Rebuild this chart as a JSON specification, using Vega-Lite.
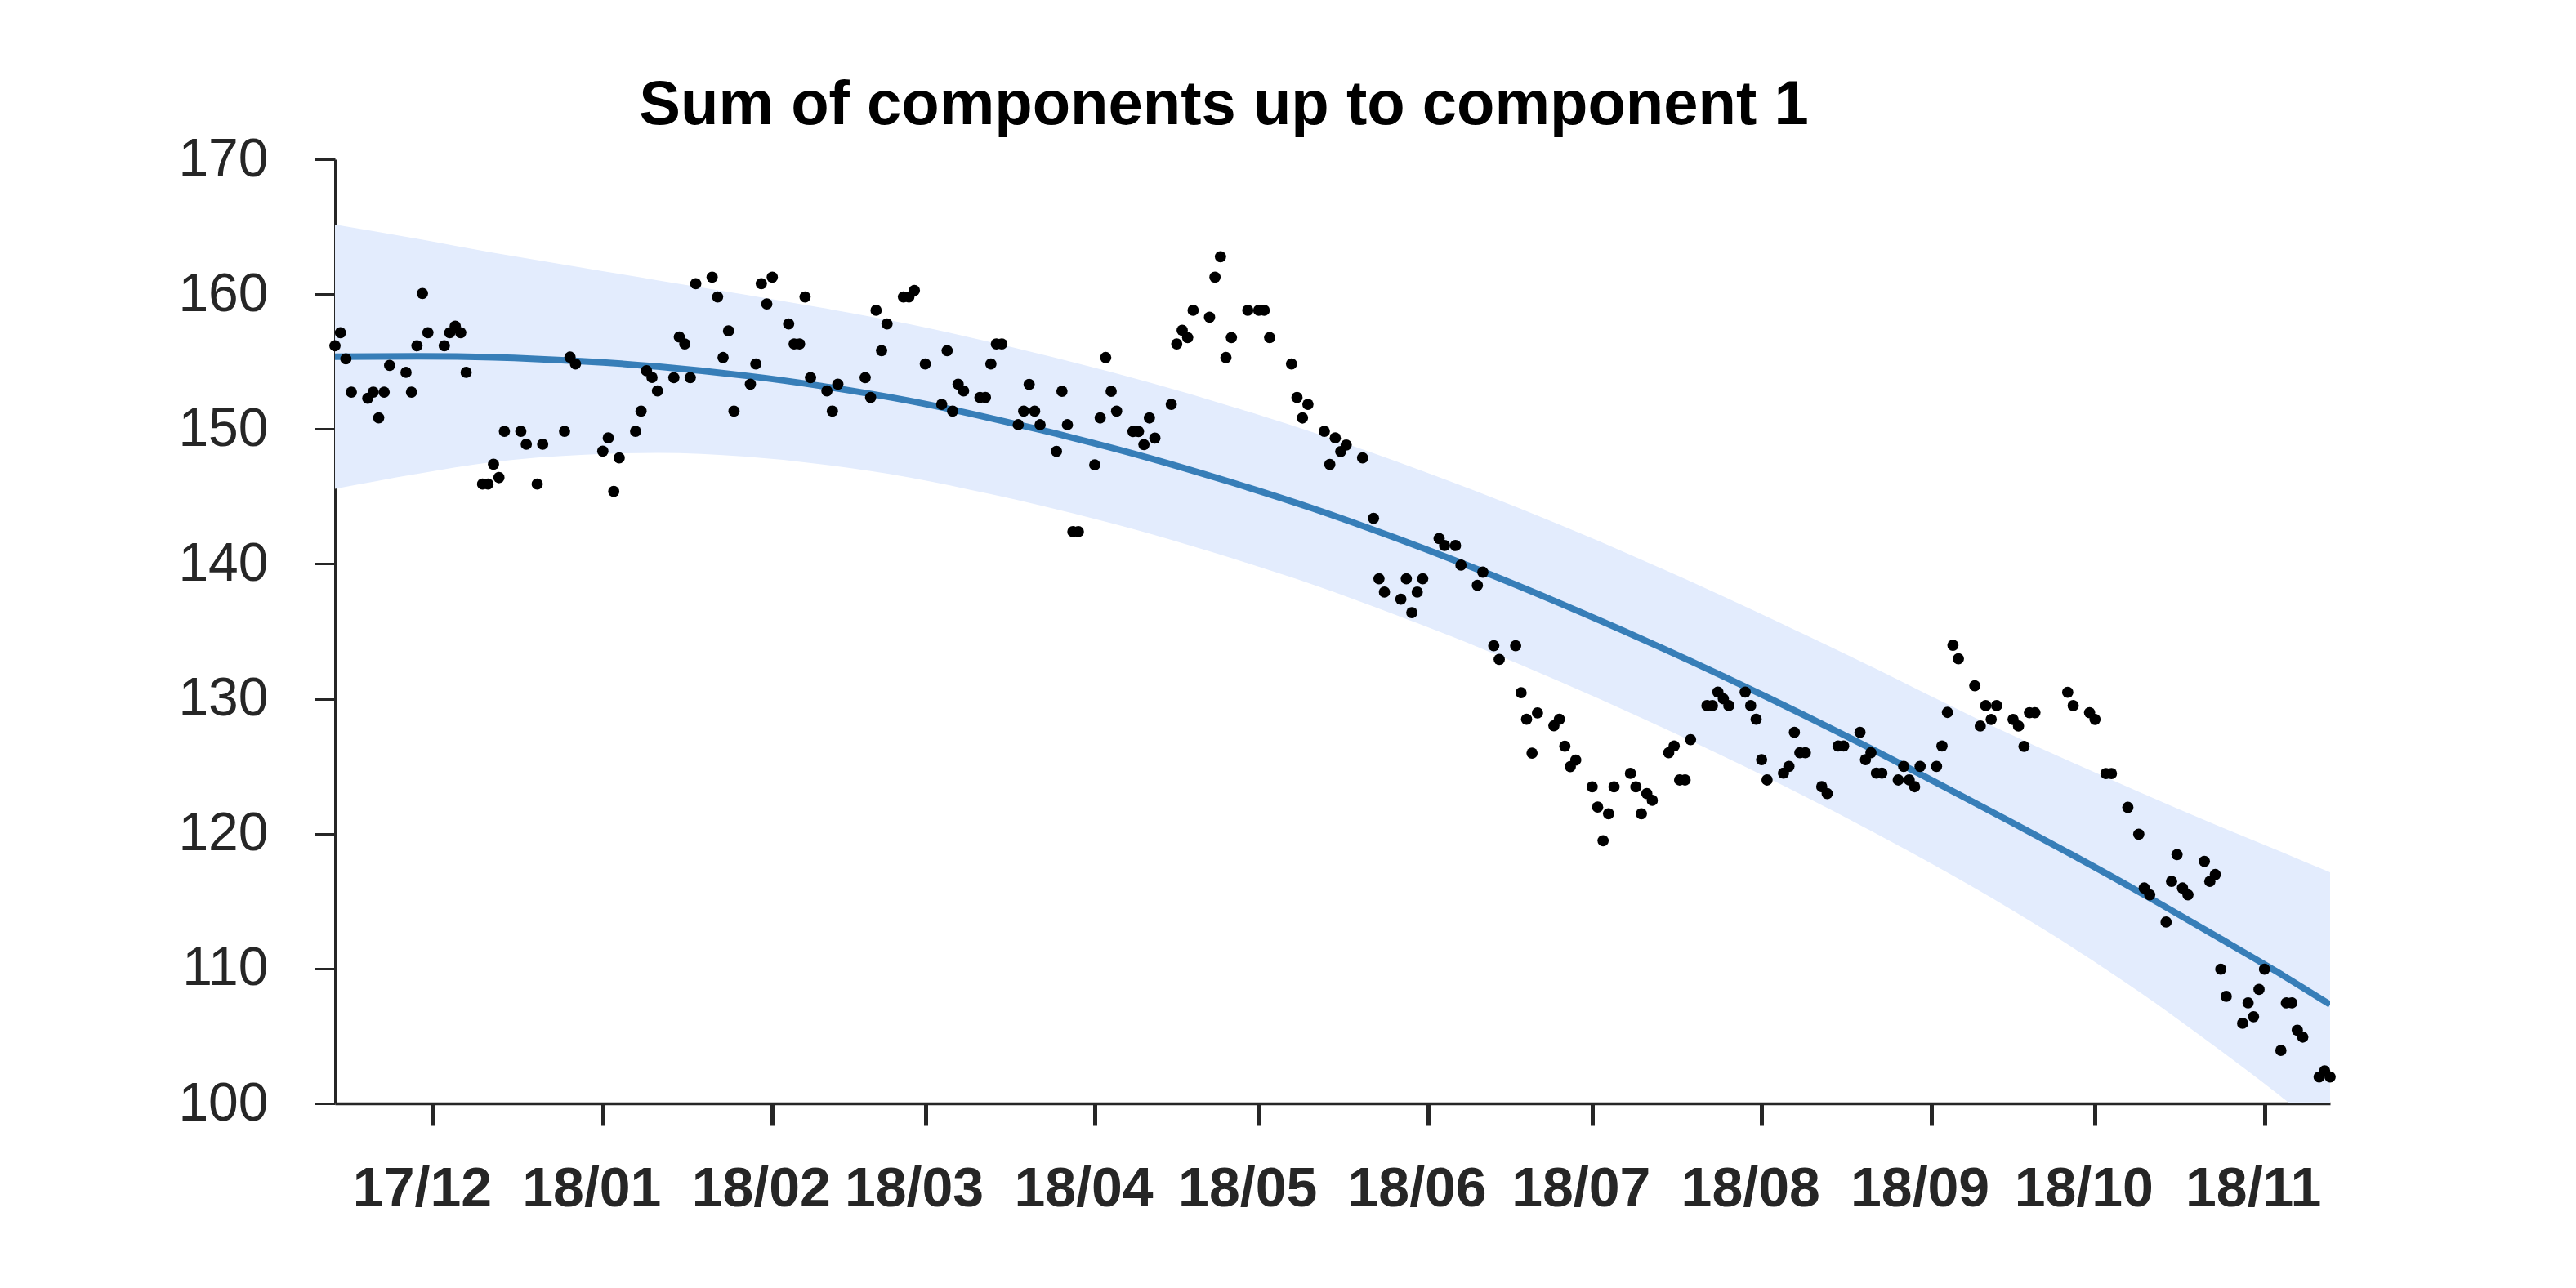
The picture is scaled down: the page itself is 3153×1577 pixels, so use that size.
{
  "$schema": "https://vega.github.io/schema/vega-lite/v6.json",
  "width": 2442,
  "height": 1156,
  "autosize": {"type": "none"},
  "padding": {"left": 410, "top": 195, "right": 301, "bottom": 226},
  "background": "white",
  "config": {"view": {"stroke": null}, "font": "Liberation Sans"},
  "title": {"text": "Sum of components up to component 1", "font": "Liberation Sans", "fontSize": 76, "fontWeight": "bold", "color": "#000000", "anchor": "middle", "dx": -133, "dy": 90, "offset": 24, "baseline": "alphabetic"},
  "datasets": {
    "fit": [
      {"date": "2017-11-13", "mean": 155.36, "lo": 145.56, "hi": 165.16},
      {"date": "2017-11-28", "mean": 155.39, "lo": 146.67, "hi": 164.11},
      {"date": "2017-12-12", "mean": 155.31, "lo": 147.56, "hi": 163.06},
      {"date": "2017-12-28", "mean": 155.03, "lo": 148.08, "hi": 161.98},
      {"date": "2018-01-11", "mean": 154.63, "lo": 148.23, "hi": 161.03},
      {"date": "2018-01-27", "mean": 153.96, "lo": 147.96, "hi": 159.96},
      {"date": "2018-02-10", "mean": 153.19, "lo": 147.39, "hi": 158.99},
      {"date": "2018-02-26", "mean": 152.10, "lo": 146.42, "hi": 157.78},
      {"date": "2018-03-13", "mean": 150.80, "lo": 145.17, "hi": 156.43},
      {"date": "2018-03-28", "mean": 149.35, "lo": 143.75, "hi": 154.95},
      {"date": "2018-04-11", "mean": 147.85, "lo": 142.25, "hi": 153.45},
      {"date": "2018-04-26", "mean": 146.05, "lo": 140.43, "hi": 151.67},
      {"date": "2018-05-11", "mean": 144.10, "lo": 138.45, "hi": 149.75},
      {"date": "2018-05-26", "mean": 141.93, "lo": 136.23, "hi": 147.63},
      {"date": "2018-06-10", "mean": 139.60, "lo": 133.85, "hi": 145.35},
      {"date": "2018-06-25", "mean": 137.10, "lo": 131.29, "hi": 142.91},
      {"date": "2018-07-10", "mean": 134.45, "lo": 128.58, "hi": 140.32},
      {"date": "2018-07-25", "mean": 131.66, "lo": 125.73, "hi": 137.59},
      {"date": "2018-08-09", "mean": 128.74, "lo": 122.74, "hi": 134.74},
      {"date": "2018-08-24", "mean": 125.68, "lo": 119.56, "hi": 131.80},
      {"date": "2018-09-08", "mean": 122.50, "lo": 116.20, "hi": 128.80},
      {"date": "2018-09-24", "mean": 119.05, "lo": 112.30, "hi": 125.80},
      {"date": "2018-10-09", "mean": 115.70, "lo": 108.30, "hi": 123.10},
      {"date": "2018-10-24", "mean": 112.20, "lo": 103.90, "hi": 120.50},
      {"date": "2018-11-03", "mean": 109.83, "lo": 100.83, "hi": 118.83},
      {"date": "2018-11-13", "mean": 107.33, "lo": 97.53, "hi": 117.13}
    ],
    "obs": [
      {"date": "2017-11-13", "value": 156.17},
      {"date": "2017-11-14", "value": 157.14},
      {"date": "2017-11-15", "value": 155.2},
      {"date": "2017-11-16", "value": 152.74},
      {"date": "2017-11-19", "value": 152.28},
      {"date": "2017-11-20", "value": 152.74},
      {"date": "2017-11-21", "value": 150.83},
      {"date": "2017-11-22", "value": 152.74},
      {"date": "2017-11-23", "value": 154.72},
      {"date": "2017-11-26", "value": 154.2},
      {"date": "2017-11-27", "value": 152.74},
      {"date": "2017-11-28", "value": 156.17},
      {"date": "2017-11-29", "value": 160.05},
      {"date": "2017-11-30", "value": 157.14},
      {"date": "2017-12-03", "value": 156.17},
      {"date": "2017-12-04", "value": 157.14},
      {"date": "2017-12-05", "value": 157.63},
      {"date": "2017-12-06", "value": 157.14},
      {"date": "2017-12-07", "value": 154.2},
      {"date": "2017-12-10", "value": 145.92},
      {"date": "2017-12-11", "value": 145.92},
      {"date": "2017-12-12", "value": 147.39},
      {"date": "2017-12-13", "value": 146.4},
      {"date": "2017-12-14", "value": 149.83},
      {"date": "2017-12-17", "value": 149.83},
      {"date": "2017-12-18", "value": 148.87},
      {"date": "2017-12-20", "value": 145.92},
      {"date": "2017-12-21", "value": 148.87},
      {"date": "2017-12-25", "value": 149.83},
      {"date": "2017-12-26", "value": 155.33},
      {"date": "2017-12-27", "value": 154.82},
      {"date": "2018-01-01", "value": 148.36},
      {"date": "2018-01-02", "value": 149.35},
      {"date": "2018-01-03", "value": 145.37},
      {"date": "2018-01-04", "value": 147.86},
      {"date": "2018-01-07", "value": 149.83},
      {"date": "2018-01-08", "value": 151.33},
      {"date": "2018-01-09", "value": 154.32},
      {"date": "2018-01-10", "value": 153.83},
      {"date": "2018-01-11", "value": 152.82},
      {"date": "2018-01-14", "value": 153.81},
      {"date": "2018-01-15", "value": 156.82},
      {"date": "2018-01-16", "value": 156.31},
      {"date": "2018-01-17", "value": 153.81},
      {"date": "2018-01-18", "value": 160.77},
      {"date": "2018-01-21", "value": 161.26},
      {"date": "2018-01-22", "value": 159.79},
      {"date": "2018-01-23", "value": 155.3},
      {"date": "2018-01-24", "value": 157.28},
      {"date": "2018-01-25", "value": 151.33},
      {"date": "2018-01-28", "value": 153.33},
      {"date": "2018-01-29", "value": 154.82},
      {"date": "2018-01-30", "value": 160.77},
      {"date": "2018-01-31", "value": 159.28},
      {"date": "2018-02-01", "value": 161.26},
      {"date": "2018-02-04", "value": 157.79},
      {"date": "2018-02-05", "value": 156.31},
      {"date": "2018-02-06", "value": 156.31},
      {"date": "2018-02-07", "value": 159.79},
      {"date": "2018-02-08", "value": 153.81},
      {"date": "2018-02-11", "value": 152.82},
      {"date": "2018-02-12", "value": 151.33},
      {"date": "2018-02-13", "value": 153.33},
      {"date": "2018-02-18", "value": 153.81},
      {"date": "2018-02-19", "value": 152.34},
      {"date": "2018-02-20", "value": 158.8},
      {"date": "2018-02-21", "value": 155.81},
      {"date": "2018-02-22", "value": 157.79},
      {"date": "2018-02-25", "value": 159.79},
      {"date": "2018-02-26", "value": 159.79},
      {"date": "2018-02-27", "value": 160.27},
      {"date": "2018-03-01", "value": 154.82},
      {"date": "2018-03-04", "value": 151.83},
      {"date": "2018-03-05", "value": 155.81},
      {"date": "2018-03-06", "value": 151.33},
      {"date": "2018-03-07", "value": 153.33},
      {"date": "2018-03-08", "value": 152.82},
      {"date": "2018-03-11", "value": 152.34},
      {"date": "2018-03-12", "value": 152.34},
      {"date": "2018-03-13", "value": 154.82},
      {"date": "2018-03-14", "value": 156.31},
      {"date": "2018-03-15", "value": 156.31},
      {"date": "2018-03-18", "value": 150.32},
      {"date": "2018-03-19", "value": 151.33},
      {"date": "2018-03-20", "value": 153.31},
      {"date": "2018-03-21", "value": 151.33},
      {"date": "2018-03-22", "value": 150.32},
      {"date": "2018-03-25", "value": 148.34},
      {"date": "2018-03-26", "value": 152.8},
      {"date": "2018-03-27", "value": 150.32},
      {"date": "2018-03-28", "value": 142.39},
      {"date": "2018-03-29", "value": 142.39},
      {"date": "2018-04-01", "value": 147.35},
      {"date": "2018-04-02", "value": 150.82},
      {"date": "2018-04-03", "value": 155.3},
      {"date": "2018-04-04", "value": 152.8},
      {"date": "2018-04-05", "value": 151.33},
      {"date": "2018-04-08", "value": 149.82},
      {"date": "2018-04-09", "value": 149.82},
      {"date": "2018-04-10", "value": 148.85},
      {"date": "2018-04-11", "value": 150.82},
      {"date": "2018-04-12", "value": 149.33},
      {"date": "2018-04-15", "value": 151.83},
      {"date": "2018-04-16", "value": 156.31},
      {"date": "2018-04-17", "value": 157.32},
      {"date": "2018-04-18", "value": 156.78},
      {"date": "2018-04-19", "value": 158.8},
      {"date": "2018-04-22", "value": 158.29},
      {"date": "2018-04-23", "value": 161.26},
      {"date": "2018-04-24", "value": 162.77},
      {"date": "2018-04-25", "value": 155.3},
      {"date": "2018-04-26", "value": 156.78},
      {"date": "2018-04-29", "value": 158.8},
      {"date": "2018-05-01", "value": 158.8},
      {"date": "2018-05-02", "value": 158.8},
      {"date": "2018-05-03", "value": 156.78},
      {"date": "2018-05-07", "value": 154.82},
      {"date": "2018-05-08", "value": 152.34},
      {"date": "2018-05-09", "value": 150.82},
      {"date": "2018-05-10", "value": 151.83},
      {"date": "2018-05-13", "value": 149.83},
      {"date": "2018-05-14", "value": 147.37},
      {"date": "2018-05-15", "value": 149.34},
      {"date": "2018-05-16", "value": 148.33},
      {"date": "2018-05-17", "value": 148.82},
      {"date": "2018-05-20", "value": 147.86},
      {"date": "2018-05-22", "value": 143.38},
      {"date": "2018-05-23", "value": 138.9},
      {"date": "2018-05-24", "value": 137.91},
      {"date": "2018-05-27", "value": 137.38},
      {"date": "2018-05-28", "value": 138.9},
      {"date": "2018-05-29", "value": 136.39},
      {"date": "2018-05-30", "value": 137.91},
      {"date": "2018-05-31", "value": 138.9},
      {"date": "2018-06-03", "value": 141.88},
      {"date": "2018-06-04", "value": 141.36},
      {"date": "2018-06-06", "value": 141.36},
      {"date": "2018-06-07", "value": 139.91},
      {"date": "2018-06-10", "value": 138.41},
      {"date": "2018-06-11", "value": 139.39},
      {"date": "2018-06-13", "value": 133.93},
      {"date": "2018-06-14", "value": 132.92},
      {"date": "2018-06-17", "value": 133.93},
      {"date": "2018-06-18", "value": 130.45},
      {"date": "2018-06-19", "value": 128.48},
      {"date": "2018-06-20", "value": 125.97},
      {"date": "2018-06-21", "value": 128.95},
      {"date": "2018-06-24", "value": 128.0},
      {"date": "2018-06-25", "value": 128.48},
      {"date": "2018-06-26", "value": 126.49},
      {"date": "2018-06-27", "value": 124.97},
      {"date": "2018-06-28", "value": 125.46},
      {"date": "2018-07-01", "value": 123.47},
      {"date": "2018-07-02", "value": 121.97},
      {"date": "2018-07-03", "value": 119.48},
      {"date": "2018-07-04", "value": 121.47},
      {"date": "2018-07-05", "value": 123.47},
      {"date": "2018-07-08", "value": 124.47},
      {"date": "2018-07-09", "value": 123.47},
      {"date": "2018-07-10", "value": 121.47},
      {"date": "2018-07-11", "value": 122.97},
      {"date": "2018-07-12", "value": 122.47},
      {"date": "2018-07-15", "value": 126.0},
      {"date": "2018-07-16", "value": 126.5},
      {"date": "2018-07-17", "value": 123.98},
      {"date": "2018-07-18", "value": 123.98},
      {"date": "2018-07-19", "value": 126.97},
      {"date": "2018-07-22", "value": 129.49},
      {"date": "2018-07-23", "value": 129.49},
      {"date": "2018-07-24", "value": 130.5},
      {"date": "2018-07-25", "value": 130.0},
      {"date": "2018-07-26", "value": 129.49},
      {"date": "2018-07-29", "value": 130.5},
      {"date": "2018-07-30", "value": 129.49},
      {"date": "2018-07-31", "value": 128.48},
      {"date": "2018-08-01", "value": 125.49},
      {"date": "2018-08-02", "value": 123.98},
      {"date": "2018-08-05", "value": 124.48},
      {"date": "2018-08-06", "value": 124.99},
      {"date": "2018-08-07", "value": 127.51},
      {"date": "2018-08-08", "value": 126.0},
      {"date": "2018-08-09", "value": 126.0},
      {"date": "2018-08-12", "value": 123.48},
      {"date": "2018-08-13", "value": 122.97},
      {"date": "2018-08-15", "value": 126.5},
      {"date": "2018-08-16", "value": 126.5},
      {"date": "2018-08-19", "value": 127.51},
      {"date": "2018-08-20", "value": 125.49},
      {"date": "2018-08-21", "value": 126.0},
      {"date": "2018-08-22", "value": 124.48},
      {"date": "2018-08-23", "value": 124.48},
      {"date": "2018-08-26", "value": 123.98},
      {"date": "2018-08-27", "value": 124.99},
      {"date": "2018-08-28", "value": 123.98},
      {"date": "2018-08-29", "value": 123.48},
      {"date": "2018-08-30", "value": 124.99},
      {"date": "2018-09-02", "value": 124.99},
      {"date": "2018-09-03", "value": 126.5},
      {"date": "2018-09-04", "value": 128.99},
      {"date": "2018-09-05", "value": 133.97},
      {"date": "2018-09-06", "value": 132.96},
      {"date": "2018-09-09", "value": 130.97},
      {"date": "2018-09-10", "value": 127.98},
      {"date": "2018-09-11", "value": 129.49},
      {"date": "2018-09-12", "value": 128.47},
      {"date": "2018-09-13", "value": 129.49},
      {"date": "2018-09-16", "value": 128.47},
      {"date": "2018-09-17", "value": 127.98},
      {"date": "2018-09-18", "value": 126.47},
      {"date": "2018-09-19", "value": 128.97},
      {"date": "2018-09-20", "value": 128.97},
      {"date": "2018-09-26", "value": 130.48},
      {"date": "2018-09-27", "value": 129.49},
      {"date": "2018-09-30", "value": 128.97},
      {"date": "2018-10-01", "value": 128.47},
      {"date": "2018-10-03", "value": 124.46},
      {"date": "2018-10-04", "value": 124.46},
      {"date": "2018-10-07", "value": 121.95},
      {"date": "2018-10-09", "value": 119.96},
      {"date": "2018-10-10", "value": 115.97},
      {"date": "2018-10-11", "value": 115.47},
      {"date": "2018-10-14", "value": 113.45},
      {"date": "2018-10-15", "value": 116.46},
      {"date": "2018-10-16", "value": 118.45},
      {"date": "2018-10-17", "value": 115.97},
      {"date": "2018-10-18", "value": 115.47},
      {"date": "2018-10-21", "value": 117.95},
      {"date": "2018-10-22", "value": 116.46},
      {"date": "2018-10-23", "value": 116.97},
      {"date": "2018-10-24", "value": 109.95},
      {"date": "2018-10-25", "value": 107.94},
      {"date": "2018-10-28", "value": 105.94},
      {"date": "2018-10-29", "value": 107.45},
      {"date": "2018-10-30", "value": 106.43},
      {"date": "2018-10-31", "value": 108.45},
      {"date": "2018-11-01", "value": 109.95},
      {"date": "2018-11-04", "value": 103.93},
      {"date": "2018-11-05", "value": 107.45},
      {"date": "2018-11-06", "value": 107.45},
      {"date": "2018-11-07", "value": 105.43},
      {"date": "2018-11-08", "value": 104.92},
      {"date": "2018-11-11", "value": 101.96},
      {"date": "2018-11-12", "value": 102.42},
      {"date": "2018-11-13", "value": 101.96}
    ]
  },
  "layer": [
    {
      "data": {"name": "fit"},
      "mark": {"type": "area", "color": "#e3ecfd", "clip": true, "interpolate": "monotone"},
      "encoding": {
        "x": {
          "field": "date", "type": "temporal",
          "scale": {"type": "utc", "nice": false, "domain": [{"year": 2017, "month": 11, "date": 13, "utc": true}, {"year": 2018, "month": 11, "date": 13, "utc": true}]},
          "axis": {
            "title": null, "grid": false, "format": "%y/%m",
            "values": [
              {"year": 2017, "month": 12, "date": 1, "utc": true},
              {"year": 2018, "month": 1, "date": 1, "utc": true},
              {"year": 2018, "month": 2, "date": 1, "utc": true},
              {"year": 2018, "month": 3, "date": 1, "utc": true},
              {"year": 2018, "month": 4, "date": 1, "utc": true},
              {"year": 2018, "month": 5, "date": 1, "utc": true},
              {"year": 2018, "month": 6, "date": 1, "utc": true},
              {"year": 2018, "month": 7, "date": 1, "utc": true},
              {"year": 2018, "month": 8, "date": 1, "utc": true},
              {"year": 2018, "month": 9, "date": 1, "utc": true},
              {"year": 2018, "month": 10, "date": 1, "utc": true},
              {"year": 2018, "month": 11, "date": 1, "utc": true}
            ],
            "labelFont": "Liberation Sans", "labelFontWeight": "bold", "labelFontSize": 68, "labelColor": "#262626",
            "labelPadding": 44, "labelOffset": -14, "labelFlush": false, "labelOverlap": false,
            "tickSize": 27, "tickWidth": 5, "tickColor": "#262626",
            "domainColor": "#262626", "domainWidth": 3.5
          }
        },
        "y": {
          "field": "lo", "type": "quantitative",
          "scale": {"domain": [100, 170], "nice": false, "zero": false},
          "axis": {
            "title": null, "grid": false, "values": [100, 110, 120, 130, 140, 150, 160, 170],
            "labelFont": "Liberation Sans", "labelFontSize": 66, "labelColor": "#262626", "labelPadding": 57,
            "tickSize": 25, "tickWidth": 3, "tickColor": "#262626",
            "domainColor": "#262626", "domainWidth": 3
          }
        },
        "y2": {"field": "hi"}
      }
    },
    {
      "data": {"name": "fit"},
      "mark": {"type": "line", "color": "#377eb8", "strokeWidth": 8, "interpolate": "natural", "clip": true},
      "encoding": {
        "x": {"field": "date", "type": "temporal"},
        "y": {"field": "mean", "type": "quantitative"}
      }
    },
    {
      "data": {"name": "obs"},
      "mark": {"type": "circle", "color": "#000000", "size": 190, "opacity": 1},
      "encoding": {
        "x": {"field": "date", "type": "temporal"},
        "y": {"field": "value", "type": "quantitative"}
      }
    }
  ]
}
